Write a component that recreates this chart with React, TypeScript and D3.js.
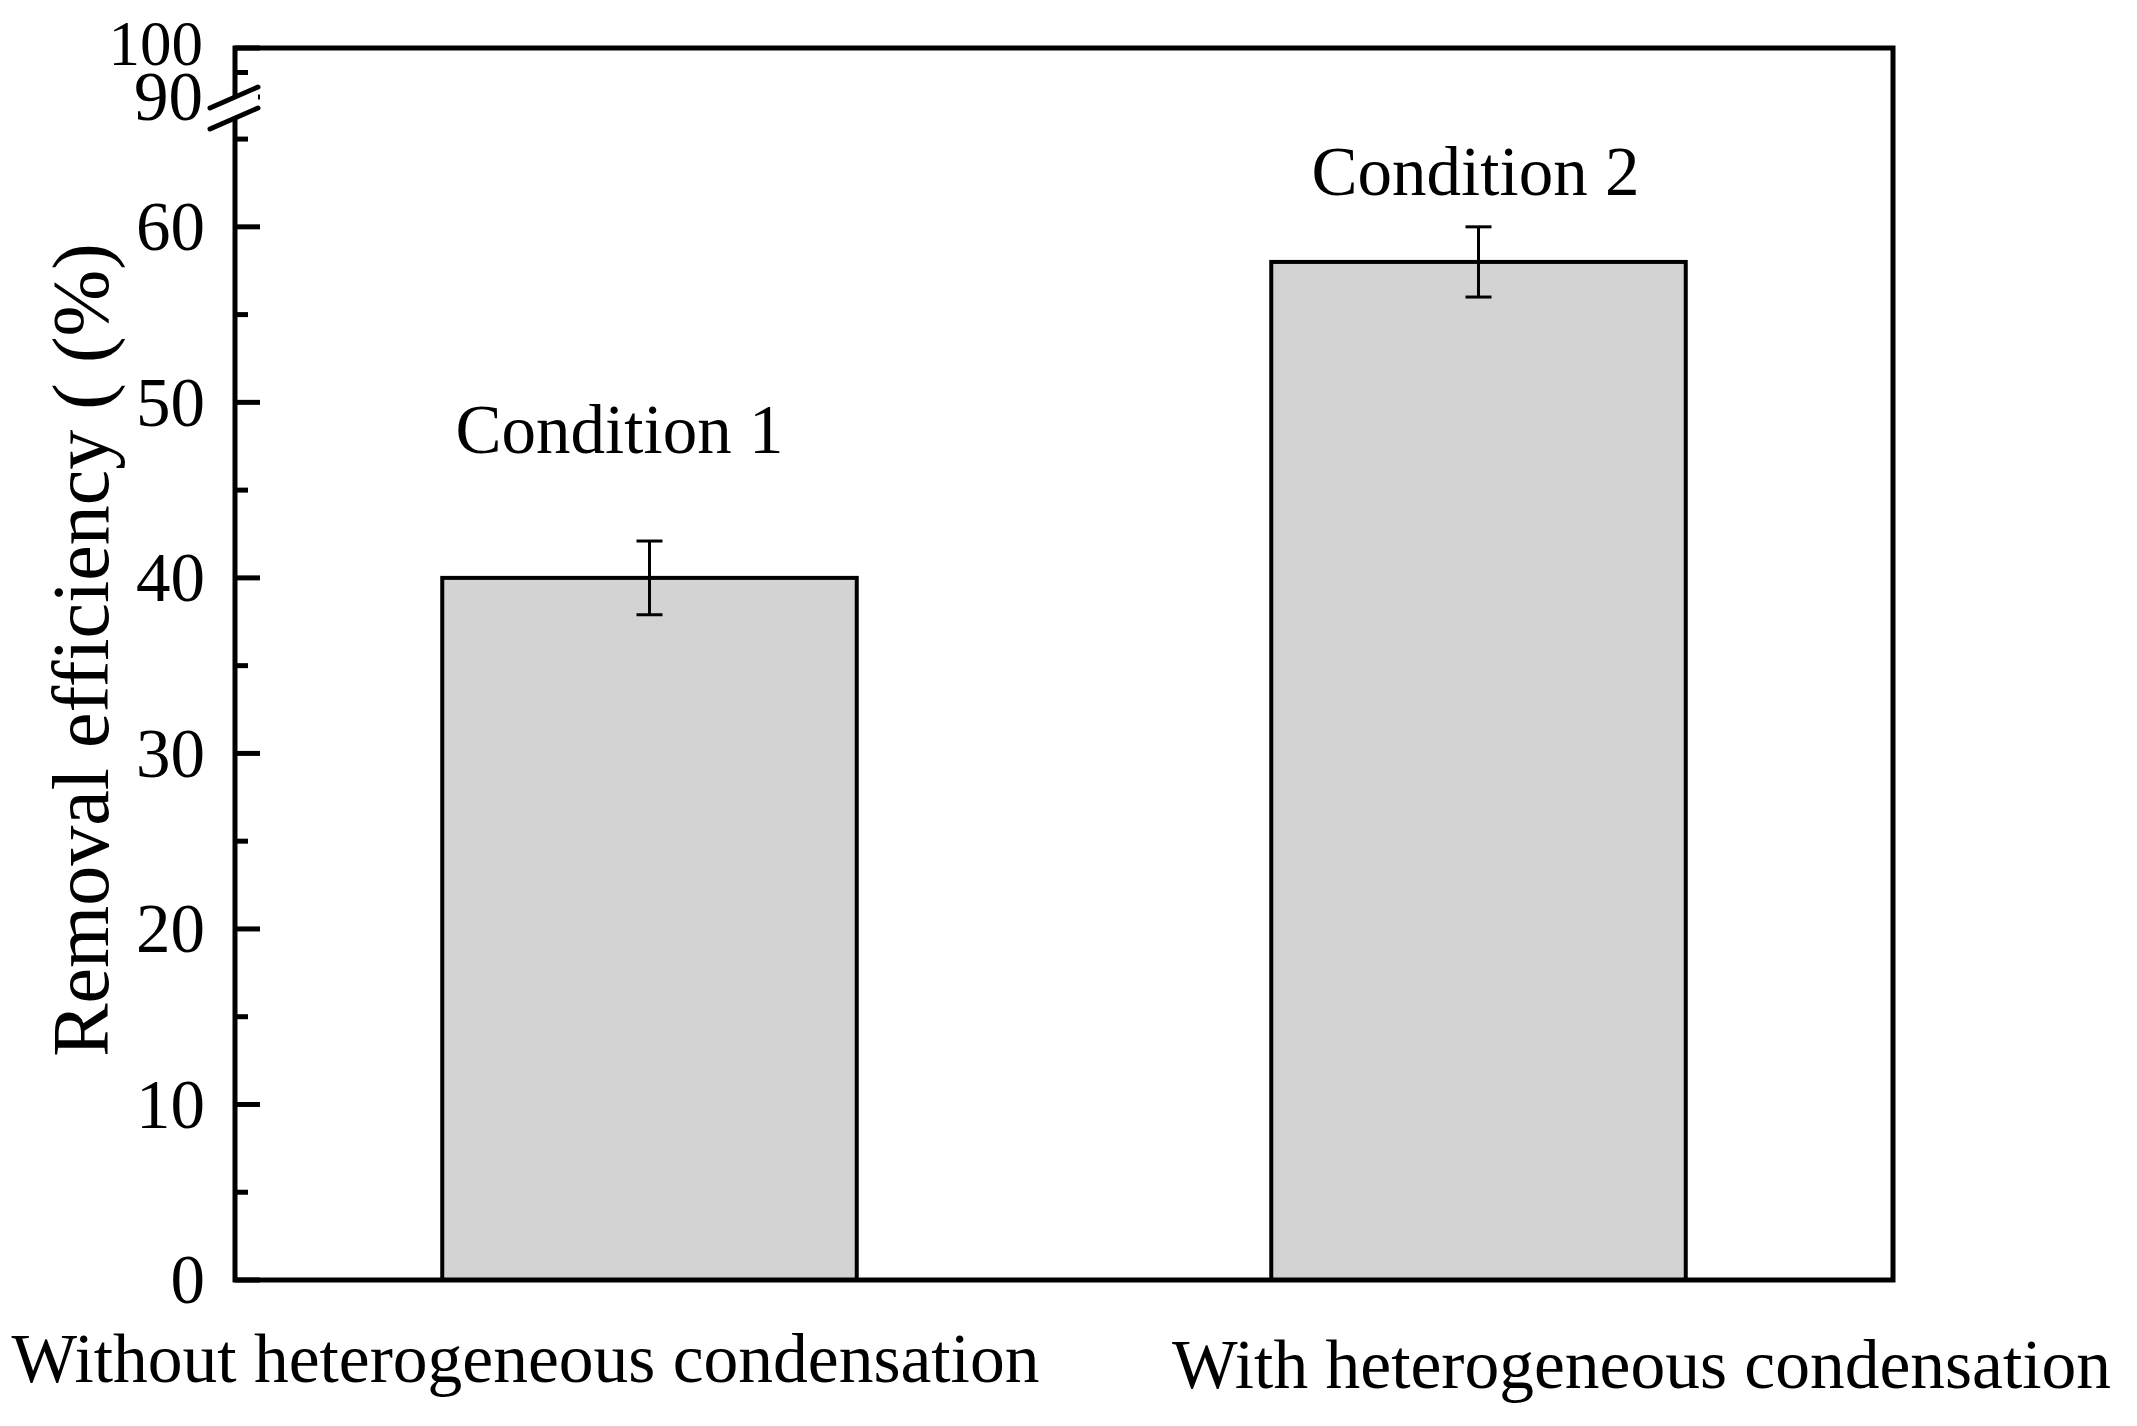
import React from "react";
import * as d3 from "d3";

const categories = ["Without heterogeneous condensation", "With heterogeneous condensation"];
const values = [40, 58];
const errors = [2.1, 2.0];
const barLabels = ["Condition 1", "Condition 2"];
const lowerTicks = [0, 10, 20, 30, 40, 50, 60];
const lowerMinor = [5, 15, 25, 35, 45, 55, 65];
const upperTicks = [90, 100];
const upperMinor = [95];
const yTitle = "Removal efficiency ( (%)";

const W = 2137, H = 1426;
const L = 235, R = 1893, T = 48, B = 1280;
const FONT = "'Liberation Serif', 'Times New Roman', serif";

export default function App() {
  const x = d3.scaleBand<string>().domain(categories).range([L, R]).paddingInner(0.5).paddingOuter(0.25);
  const yLow = d3.scaleLinear().domain([0, 66.2]).range([B, 118]);
  const yUp = d3.scaleLinear().domain([90, 100]).range([97, T]);
  const y = (v: number) => (v >= 90 ? yUp(v) : yLow(v));

  const labelOffsets = [{ dx: -30, v: 47.1 }, { dx: -3, v: 61.8 }];
  const catOffsets = [{ dx: -124, y: 1382 }, { dx: 163, y: 1388 }];

  const fs = 69;
  const breakTopY = yUp(90);
  const breakBotY = yLow.range()[1];

  return (
    <svg width={W} height={H} style={{ position: "absolute", left: 0, top: 0, background: "#fff" }}
      fontFamily={FONT}>
      <rect x={0} y={0} width={W} height={H} fill="#fff" />
      {/* bars */}
      {categories.map((c, i) => (
        <rect key={c} x={x(c)} y={y(values[i])} width={x.bandwidth()} height={B - y(values[i])}
          fill="#d3d3d3" stroke="#000" strokeWidth={4} />
      ))}
      {/* error bars */}
      {categories.map((c, i) => {
        const cx = (x(c) as number) + x.bandwidth() / 2;
        const y1 = y(values[i] + errors[i]);
        const y2 = y(values[i] - errors[i]);
        return (
          <g key={c + "e"} stroke="#000" strokeWidth={3}>
            <line x1={cx} x2={cx} y1={y1} y2={y2} />
            <line x1={cx - 13} x2={cx + 13} y1={y1} y2={y1} />
            <line x1={cx - 13} x2={cx + 13} y1={y2} y2={y2} />
          </g>
        );
      })}
      {/* frame */}
      <rect x={L} y={T} width={R - L} height={B - T} fill="none" stroke="#000" strokeWidth={5} />
      {/* ticks */}
      {lowerTicks.map((t) => (
        <g key={"lt" + t}>
          <line x1={L} x2={L + 25} y1={yLow(t)} y2={yLow(t)} stroke="#000" strokeWidth={5} />
          <text x={L - 30} y={yLow(t)} dy="0.34em" textAnchor="end" fontSize={fs}>{t}</text>
        </g>
      ))}
      {lowerMinor.map((t) => (
        <line key={"lm" + t} x1={L} x2={L + 13} y1={yLow(t)} y2={yLow(t)} stroke="#000" strokeWidth={5} />
      ))}
      {upperTicks.map((t) => (
        <g key={"ut" + t}>
          <line x1={L} x2={L + 25} y1={yUp(t)} y2={yUp(t)} stroke="#000" strokeWidth={5} />
          <text x={L - 32} y={yUp(t)} dy={t === 100 ? "0.27em" : "0.33em"} textAnchor="end"
            fontSize={t === 100 ? 63 : fs}>{t}</text>
        </g>
      ))}
      {upperMinor.map((t) => (
        <line key={"um" + t} x1={L} x2={L + 13} y1={yUp(t)} y2={yUp(t)} stroke="#000" strokeWidth={5} />
      ))}
      {/* axis break */}
      <polygon points={`${L - 25},${breakTopY + 11} ${L + 23},${breakTopY - 10} ${L + 23},${breakBotY - 10} ${L - 25},${breakBotY + 11}`}
        fill="#fff" />
      <line x1={L - 25} y1={breakTopY + 11} x2={L + 23} y2={breakTopY - 10} stroke="#000" strokeWidth={5} strokeLinecap="round" />
      <line x1={L - 25} y1={breakBotY + 11} x2={L + 23} y2={breakBotY - 10} stroke="#000" strokeWidth={5} strokeLinecap="round" />
      {/* bar labels */}
      {categories.map((c, i) => (
        <text key={c + "l"} x={(x(c) as number) + x.bandwidth() / 2 + labelOffsets[i].dx} y={y(labelOffsets[i].v)}
          textAnchor="middle" fontSize={fs}>{barLabels[i]}</text>
      ))}
      {/* category labels */}
      {categories.map((c, i) => (
        <text key={c + "c"} x={(x(c) as number) + x.bandwidth() / 2 + catOffsets[i].dx} y={catOffsets[i].y}
          textAnchor="middle" fontSize={69.5}>{c}</text>
      ))}
      {/* y title */}
      <text transform={`translate(108, 650) rotate(-90)`} textAnchor="middle" fontSize={80}>{yTitle}</text>
    </svg>
  );
}
